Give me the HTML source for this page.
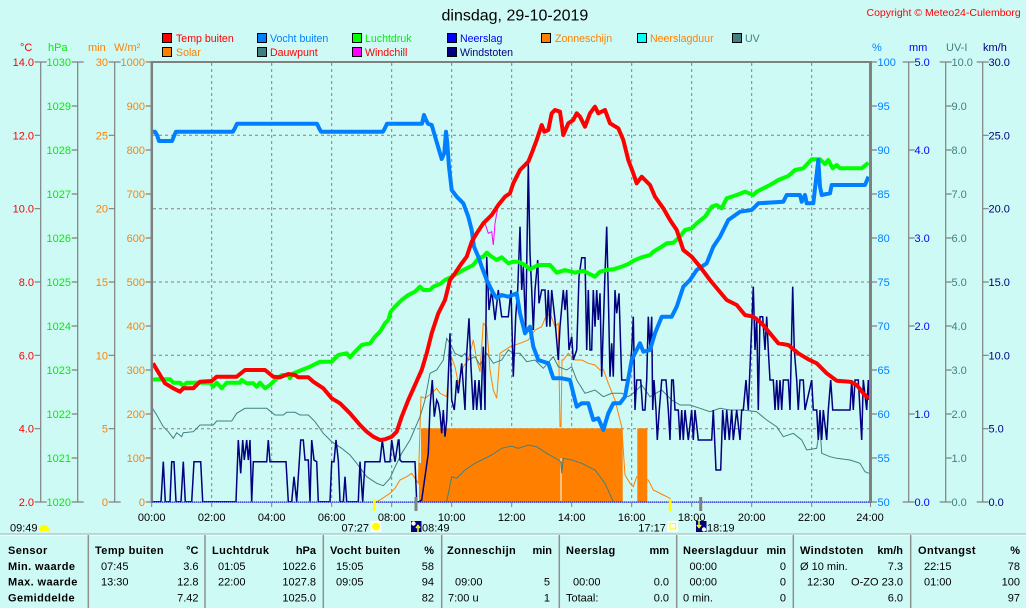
<!DOCTYPE html>
<html><head><meta charset="utf-8"><style>
html,body{margin:0;padding:0;background:#cefaf6;}
svg{display:block;font-family:"Liberation Sans",Arial,sans-serif;}
</style></head><body>
<svg width="1026" height="608" viewBox="0 0 1026 608" xmlns="http://www.w3.org/2000/svg">
<rect x="0" y="0" width="1026" height="608" fill="#cefaf6"/>
<!-- title -->
<text x="441.5" y="20.5" font-size="16" fill="#000">dinsdag, 29-10-2019</text>
<text x="866.5" y="16" font-size="10.5" fill="#ff0000">Copyright © Meteo24-Culemborg</text>

<!-- legend -->
<g font-size="10.6" stroke="none">
<rect x="162.5" y="33.5" width="9" height="9" fill="#ff0000" stroke="#000"/><text x="176" y="42" fill="#ff0000">Temp buiten</text>
<rect x="162.5" y="47.5" width="9" height="9" fill="#ff8000" stroke="#000"/><text x="176" y="56" fill="#ff8000">Solar</text>
<rect x="257.5" y="33.5" width="9" height="9" fill="#0080ff" stroke="#000"/><text x="270" y="42" fill="#0080ff">Vocht buiten</text>
<rect x="257.5" y="47.5" width="9" height="9" fill="#408080" stroke="#000"/><text x="270" y="56" fill="#ff0000">Dauwpunt</text>
<rect x="352.5" y="33.5" width="9" height="9" fill="#00ff00" stroke="#000"/><text x="365" y="42" fill="#00f000">Luchtdruk</text>
<rect x="352.5" y="47.5" width="9" height="9" fill="#ff00ff" stroke="#000"/><text x="365" y="56" fill="#ff0000">Windchill</text>
<rect x="447.5" y="33.5" width="9" height="9" fill="#0000ff" stroke="#000"/><text x="460" y="42" fill="#0000ff">Neerslag</text>
<rect x="447.5" y="47.5" width="9" height="9" fill="#000080" stroke="#000"/><text x="460" y="56" fill="#000080">Windstoten</text>
<rect x="541.5" y="33.5" width="9" height="9" fill="#ff8000" stroke="#000"/><text x="555" y="42" fill="#ff8000">Zonneschijn</text>
<rect x="637.5" y="33.5" width="9" height="9" fill="#00ffff" stroke="#000"/><text x="650" y="42" fill="#ff8000">Neerslagduur</text>
<rect x="732.5" y="33.5" width="9" height="9" fill="#408080" stroke="#000"/><text x="745" y="42" fill="#408080">UV</text>
</g>

<!-- unit labels -->
<g font-size="11">
<text x="20" y="51" fill="#ff0000">°C</text>
<text x="48" y="51" fill="#00f000">hPa</text>
<text x="88" y="51" fill="#ff8000">min</text>
<text x="114" y="51" fill="#ff8000">W/m²</text>
<text x="872" y="51" fill="#0080ff">%</text>
<text x="909" y="51" fill="#0000ff">mm</text>
<text x="946" y="51" fill="#408080">UV-I</text>
<text x="983" y="51" fill="#000080">km/h</text>
</g>

<!-- axis lines -->
<g stroke="#808080" stroke-width="1.2" fill="none">
<line x1="40.7" y1="62" x2="40.7" y2="502"/>
<line x1="77.7" y1="62" x2="77.7" y2="502"/>
<line x1="114.7" y1="62" x2="114.7" y2="502"/>
<line x1="908.7" y1="62" x2="908.7" y2="502"/>
<line x1="945.7" y1="62" x2="945.7" y2="502"/>
<line x1="982.7" y1="62" x2="982.7" y2="502"/>
<path d="M34.7 62H46.7M34.7 502H46.7M71.7 62H83.7M71.7 502H83.7M108.7 62H120.7M108.7 502H120.7M902.7 62H914.7M902.7 502H914.7M939.7 62H951.7M939.7 502H951.7M976.7 62H988.7M976.7 502H988.7"/>
<path d="M34.7 135.3H40.7M34.7 208.7H40.7M34.7 282H40.7M34.7 355.3H40.7M34.7 428.7H40.7"/>
<path d="M71.7 106H77.7M71.7 150H77.7M71.7 194H77.7M71.7 238H77.7M71.7 282H77.7M71.7 326H77.7M71.7 370H77.7M71.7 414H77.7M71.7 458H77.7"/>
<path d="M108.7 135.3H114.7M108.7 208.7H114.7M108.7 282H114.7M108.7 355.3H114.7M108.7 428.7H114.7"/>
<path d="M145.7 62H151.7M145.7 106H151.7M145.7 150H151.7M145.7 194H151.7M145.7 238H151.7M145.7 282H151.7M145.7 326H151.7M145.7 370H151.7M145.7 414H151.7M145.7 458H151.7M145.7 502H151.7"/>
<path d="M871 62H877M871 106H877M871 150H877M871 194H877M871 238H877M871 282H877M871 326H877M871 370H877M871 414H877M871 458H877M871 502H877"/>
<path d="M908.7 150H914.7M908.7 238H914.7M908.7 326H914.7M908.7 414H914.7"/>
<path d="M945.7 106H951.7M945.7 150H951.7M945.7 194H951.7M945.7 238H951.7M945.7 282H951.7M945.7 326H951.7M945.7 370H951.7M945.7 414H951.7M945.7 458H951.7"/>
<path d="M982.7 135.3H988.7M982.7 208.7H988.7M982.7 282H988.7M982.7 355.3H988.7M982.7 428.7H988.7"/>
</g>

<!-- tick labels -->
<g font-size="11" text-anchor="end" fill="#ff0000">
<text x="34" y="66">14.0</text><text x="34" y="139.3">12.0</text><text x="34" y="212.7">10.0</text><text x="34" y="286">8.0</text><text x="34" y="359.3">6.0</text><text x="34" y="432.7">4.0</text><text x="34" y="506">2.0</text>
</g>
<g font-size="11" text-anchor="end" fill="#00f000">
<text x="71" y="66">1030</text><text x="71" y="110">1029</text><text x="71" y="154">1028</text><text x="71" y="198">1027</text><text x="71" y="242">1026</text><text x="71" y="286">1025</text><text x="71" y="330">1024</text><text x="71" y="374">1023</text><text x="71" y="418">1022</text><text x="71" y="462">1021</text><text x="71" y="506">1020</text>
</g>
<g font-size="11" text-anchor="end" fill="#ff8000">
<text x="108" y="66">30</text><text x="108" y="139.3">25</text><text x="108" y="212.7">20</text><text x="108" y="286">15</text><text x="108" y="359.3">10</text><text x="108" y="432.7">5</text><text x="108" y="506">0</text>
<text x="145" y="66">1000</text><text x="145" y="110">900</text><text x="145" y="154">800</text><text x="145" y="198">700</text><text x="145" y="242">600</text><text x="145" y="286">500</text><text x="145" y="330">400</text><text x="145" y="374">300</text><text x="145" y="418">200</text><text x="145" y="462">100</text><text x="145" y="506">0</text>
</g>
<g font-size="11" fill="#0080ff">
<text x="877.5" y="66">100</text><text x="877.5" y="110">95</text><text x="877.5" y="154">90</text><text x="877.5" y="198">85</text><text x="877.5" y="242">80</text><text x="877.5" y="286">75</text><text x="877.5" y="330">70</text><text x="877.5" y="374">65</text><text x="877.5" y="418">60</text><text x="877.5" y="462">55</text><text x="877.5" y="506">50</text>
</g>
<g font-size="11" fill="#0000ff">
<text x="914.5" y="66">5.0</text><text x="914.5" y="154">4.0</text><text x="914.5" y="242">3.0</text><text x="914.5" y="330">2.0</text><text x="914.5" y="418">1.0</text><text x="914.5" y="506">0.0</text>
</g>
<g font-size="11" fill="#408080">
<text x="951.5" y="66">10.0</text><text x="951.5" y="110">9.0</text><text x="951.5" y="154">8.0</text><text x="951.5" y="198">7.0</text><text x="951.5" y="242">6.0</text><text x="951.5" y="286">5.0</text><text x="951.5" y="330">4.0</text><text x="951.5" y="374">3.0</text><text x="951.5" y="418">2.0</text><text x="951.5" y="462">1.0</text><text x="951.5" y="506">0.0</text>
</g>
<g font-size="11" fill="#000080">
<text x="988.5" y="66">30.0</text><text x="988.5" y="139.3">25.0</text><text x="988.5" y="212.7">20.0</text><text x="988.5" y="286">15.0</text><text x="988.5" y="359.3">10.0</text><text x="988.5" y="432.7">5.0</text><text x="988.5" y="506">0.0</text>
</g>

<!-- grid -->
<g stroke="#808080" stroke-width="1" stroke-dasharray="3,3" fill="none">
<path d="M153 135.3H869M153 208.7H869M153 282H869M153 355.3H869M153 428.7H869"/>
<path d="M211.7 63V501M271.7 63V501M331.7 63V501M391.7 63V501M451.7 63V501M511.7 63V501M571.7 63V501M631.7 63V501M691.7 63V501M751.7 63V501M811.7 63V501"/>
</g>

<!-- sunshine fill -->
<g fill="#ff8000">
<rect x="419" y="463" width="2.5" height="39"/>
<rect x="421" y="428.3" width="201.7" height="73.7"/>
<rect x="637.3" y="428.3" width="10" height="73.7"/>
</g>
<line x1="561" y1="458" x2="561" y2="501" stroke="#ffffff" stroke-width="1"/>

<!-- solar -->
<polyline fill="none" stroke="#ff8000" stroke-width="1" points="376,502 380,500 390,493.3 395,488.3 400,480 406.7,476.7 411.7,473.3 415,478.3 418.3,483.3 421,396.7 425,398.3 431.7,393.3 436.7,388.3 440,393.3 446.7,396.7 450,353.3 455,366.7 458.3,383.3 463.3,366.7 468.3,360 473.3,340 476.7,360 480,371.7 483.3,323.3 486.7,326.7 490,370 493.3,390 496.7,398.3 500,353.3 510,346.7 520,343.3 528.3,340 535,330 541.7,326.7 545,318.3 550,313.3 555,326.7 558.3,323.3 560,426.7 561,426.7 562,360 563.3,360 568.3,353.3 575,360 581.7,360 588.3,363.3 595,365 600,370 603.3,369.3 608.3,383.3 615,400 621.7,426.7 625,475 630,483.3 633.3,486.7 636.7,476.7 648.3,480 653.3,490 663.3,495 670,498.3 671,502"/>

<!-- UV -->
<polyline fill="none" stroke="#408080" stroke-width="1" points="446.7,501.7 451.7,476.7 456.7,478.3 465,470 475,463.3 481.7,460 491.7,455 501.7,448.3 511.7,446 518.3,448.3 528.3,445 536.7,446.7 546.7,453.3 558.3,460 561,462 561.7,473.3 563.3,458.3 571.7,460 581.7,463.3 595,470 605,483.3 613.3,501.7"/>

<!-- dewpoint -->
<polyline fill="none" stroke="#408080" stroke-width="1" points="152.5,408.3 156.7,415 163.3,426.7 168.3,431.7 173.3,438.3 176.7,432.7 181.7,436.7 183.3,432.7 193.3,431.7 200,425 213.3,425 216.7,421 231.7,421 236.7,413.3 245,408.3 266.7,408.3 275,415 283.3,415 286.7,412.3 295,412.3 300,415 308.3,415 315,421.7 323.3,433.3 331.7,441.7 341.7,448.3 350,455 356.7,463.3 366.7,476.7 376.7,483.3 383.3,485.7 390,478.3 395,467 401.7,453.3 410,440 420,416.7 425,400 430,373.3 436.7,370 443.3,360 446.7,338.3 450,343.3 455,353.3 461.7,356.7 465,353.3 468.3,360 475,356.7 480,365 486.7,353.3 493.3,363.3 501.7,360 508.3,350 513.3,353.3 520,353.3 526.7,361.7 535,360 543.3,368.3 553.3,356.7 558.3,366.7 566.7,370 571.7,366.7 576.7,380 585,393.3 595,390 603.3,396.7 611.7,393.3 621.7,393.3 628.3,396.7 635,391.7 641.7,385 650,396.7 661.7,390 671.7,400 680,405 690,405 700,408.3 710,411.7 720,408.3 730,410 743.3,410 756.7,411.7 766.7,420 776.7,426.7 783.3,436.7 793.3,433.3 801.7,440 806.7,450 816.7,448.3 820,426.7 821.7,453.3 830,456.7 836.7,458.3 850,460 860,463.3 865,471.7 869,473.3"/>

<!-- wind gusts -->
<polyline fill="none" stroke="#000080" stroke-width="1.5" stroke-linejoin="miter" points="152,501.7 161,501.7 163.3,461.7 165.3,501.7 170,501.7 171.7,461.7 174,461.7 176,501.7 181,501.7 183.3,461.7 185.3,501.7 191.7,501.7 194,461.7 200.7,461.7 202.7,501.7 236,501.7 238.3,440 240.7,473.3 242.7,440 244.3,460 246.7,440 248.3,460 250,440 251.7,501.7 253.3,461.7 266.7,461.7 268.3,440 270,461.7 286,461.7 288.3,501.7 291.7,501.7 294,476.7 296.7,501.7 298.3,476.7 300.7,440 303.3,440 305,460 308.3,460 310,501.7 311.7,440 314,460 316.7,461.7 318.3,501.7 330,501.7 331.7,461.7 334,461.7 336,440 338.3,460 340,501.7 343.3,501.7 345,476.7 346.7,501.7 358.3,501.7 360,461.7 362.7,501.7 365,461.7 380,461.7 382.3,440 385,461.7 390,461.7 391.7,440 395,461.7 398.3,440 399,440 400,460 401.7,461.7 415,461.7 416.7,501.7 419,501.7 421.7,500 428.3,453.3 430,406.7 432.3,380 434.3,416.7 436.7,400 438.3,403.3 440,413.3 441.7,433.3 443.3,410 445,436.7 446.7,420 448.3,376.7 450,333.3 451.7,400 454.3,410 456.7,380 458.3,393.3 461.7,363.3 465,410 466.7,353.3 469,318.3 471,366.7 473.3,410 475,380 476.7,410 479,380 481,410 482.3,366.7 483.3,346.7 485,410 486.7,256.7 489,310 491.7,290 495,320 498.3,290 501.7,316.7 508.3,316.7 511,290 513.3,376.7 515.7,316.7 517.7,290 520,226.7 521.7,290 523.3,266.7 525.7,330 528.3,163.3 530,253.3 531.7,290 533.3,330 535,290 537.7,260 539,303.3 541.7,290 545,290 546.7,326.7 548.3,290 550,326.7 551.7,290 555,320 558.3,360 560,326.7 563.3,290 565,310 566.7,290 569,350 571.7,336.7 573.3,360 576.7,350 579,276.7 581.7,257.7 585,257.7 586.7,350 588.3,290 590,350 591.7,350 593.3,290 595,326.7 596.7,290 598.3,320 600,293.3 601.7,376.7 605,273.3 606.7,226.7 608.3,293.3 610,376.7 611.7,343.3 613.3,376.7 615,290 616.7,313.3 619,293.3 621.7,380 628.3,380 630,370 631.7,350 633.3,316.7 635,410 636.7,380 640.7,380 642.7,410 645,410 646.7,380 648.3,316.7 650,350 651.7,316.7 652.7,410 654,380 656,410 657.3,440 659.3,410 661.7,380 666,380 668.3,410 670,440 671.7,380 673.3,380 675,410 678.3,410 680,440 681.7,410 683.3,440 685,410 688.3,440 691.7,410 693.3,440 695,410 698.3,440 711.7,440 713.3,410 716,470 720.7,470 722.7,410 725,440 726.7,410 729.3,440 731.7,410 733.3,440 736.7,410 740,440 741.7,410 743.3,410 746,380 748.3,410 750.7,350 753.3,286.7 755,350 756.7,316.7 758.3,410 760,316.7 762.7,316.7 765,350 766.7,316.7 768.3,350 770,380 773.3,380 775,410 776.7,380 778.3,410 780,380 781.7,410 783.3,380 788.3,380 790,410 792.7,286.7 794.3,350 796.7,380 798.3,410 800,380 803.3,380 805,410 811.7,380 813.3,410 816.7,410 818.3,440 820,410 821.7,440 823.3,410 826.7,440 828.3,410 830.7,380 832.7,410 850,410 851.7,380 853.3,410 855,380 858.3,380 860,410 861.7,440 863.3,380 866.7,410 868.3,380 869,400"/>

<!-- windchill -->
<polyline fill="none" stroke="#ff00ff" stroke-width="1" points="485,223.3 488.3,233.3 491.7,231.7 493.3,245 495,223.3 497.7,208.3"/>

<!-- pressure -->
<polyline fill="none" stroke="#00ff00" stroke-width="4" stroke-linejoin="round" points="153,380 155,379.3 170,379.3 173.3,382.7 180,382.7 183.3,386 186.7,382.7 210,382.7 213.3,386.7 216.7,382.7 221.7,388.3 226.7,382.7 240,382.7 241.7,380 246.7,383.3 253.3,383.3 256.7,386.7 260,382.7 265,388.3 270,385 275,380 281.7,375 288.3,375 290,378.3 293.3,373.3 301.7,370 310,366.7 320,361.7 331.7,361.7 338.3,355 346.7,353.3 350,357.3 355,351.7 361.7,345 370,343.3 375,336.7 380,331.7 385,323.3 388.3,320 390.7,311.7 395,306.7 401.7,300 408.3,295 415,291.7 420,286.7 423.3,290 430,290 433.3,286.7 440,284 445,280 451.7,276.7 463.3,270 473.3,265 478.3,258.3 483.3,256.7 486.7,252.7 491.7,256.7 496.7,260 501.7,257.3 508.3,263.3 513.3,261.7 518.3,261.7 525,265 530,269.3 538.3,265 550,265 556.7,272.7 565,270 575,272.7 583.3,270.7 588.3,273.3 595,276.7 600,271.7 606.7,270 613.3,269.3 621.7,266.7 628.3,264 635,260 641.7,257.3 650,255 653.3,251.7 661.7,246.7 666.7,243.3 673.3,242.7 680,236.7 685,230 691.7,228.3 696.7,223.3 705,216.7 711.7,206.7 716.7,205 721.7,208.3 726.7,198.3 736.7,195 745,191.7 753.3,195 756.7,191.7 770,185 778.3,180 788.3,176 795,170 803.3,168.3 811.7,159.3 820,159.3 825,164 828.3,160 832.7,168.3 836.7,165 840,168.3 861.7,168.3 868.5,162.7"/>

<!-- humidity -->
<polyline fill="none" stroke="#0080ff" stroke-width="4" stroke-linejoin="round" points="153,131.7 155,131.7 157,135 159,141 172,141 174,136 176,131.7 233,131.7 235,128 237,123.7 317,123.7 319,128 321,131.7 383,131.7 385,128 387,123.7 422,123.7 424,115 426,120 428,123.7 431.7,125 440,153.3 441.7,159 444.3,153 446,131.7 447.3,143 449,166.7 451.7,190 456.7,196.7 463.3,203.3 468.3,216.7 471.7,230 474,246.7 478.3,256.7 481.7,266.7 486.7,280 493.3,293.3 496.7,298 501.7,295 508.3,296.7 516.7,293.3 520,313.3 525,333.3 530,326.7 533.3,346.7 538.3,360 548.3,363.3 553.3,378.3 561.7,378.3 570,380 576.7,406.7 581.7,403.3 588.3,403.3 593.3,420 598.3,418.3 603.3,430 608.3,413.3 613.3,403.3 620,403.3 625,396.7 631.7,360 635,353.3 640,343.3 643.3,351.7 650,350 655,333.3 661.7,316.7 671.7,316.7 676.7,306.7 683.3,286.7 690,280 696.7,270 706.7,263.3 713.3,246.7 720,236.7 728.3,220 740,211.7 751.7,210 755,206.7 758.3,203.3 783.3,201.7 786.7,195 800,195 801.7,201.7 805,195 806.7,203.3 813.3,203.3 818.3,160 820,186.7 821.7,195 830,193.3 831.7,185 865,185 868.5,176.7"/>

<!-- temperature -->
<polyline fill="none" stroke="#ff0000" stroke-width="4" stroke-linejoin="round" points="153,363.3 155,366.7 160,375 165,383.3 173.3,388.3 180,391.7 183.3,388.3 193.3,388.3 200,381.7 211.7,381 216.7,376.7 236.7,376.7 245,370 265,370 273.3,376.7 280,377.3 288.3,374 295,375 298.3,377.3 308.3,377.3 313.3,381.7 323.3,388.3 331.7,398.3 340,403.3 350,413.3 360,425 366.7,431.7 373.3,436.7 380,440 385,439.3 391.7,436.7 396.7,431.7 400,421.7 401.7,416.7 408.3,400 415,385 421.7,370 426.7,353.3 431.7,333.3 438.3,313.3 445,300 450,280 455,273.3 461.7,263.3 466.7,256.7 471.7,241.7 476.7,233.3 483.3,223.3 491.7,215 498.3,205 505,196.7 510,193.3 513.3,183.3 520,170 525,165 528.3,161.7 531.7,153.3 536.7,140 541.7,125 544.3,131.7 548.3,130 551.7,113.3 555,110 560,111.7 563.3,135 568.3,123.3 573.3,120 576.7,113.3 580,116.7 585,126.7 590,113.3 595,106.7 598.3,113.3 605,110 610,123.3 618.3,128.3 623.3,140 628.3,160 633.3,173.3 636.7,183.3 641.7,176.7 650,185 655,196.7 663.3,208.3 670,220 676.7,230 683.3,250 691.7,256.7 700,266.7 710,280 718.3,290 726.7,300 736.7,305 745,315 753.3,316.7 761.7,323.3 770,333.3 778.3,343.3 788.3,345 798.3,353.3 808.3,359.3 816.7,363.3 826.7,373.3 836.7,380.7 850,381.7 856.7,385 863.3,393.3 868.5,398.3"/>

<!-- plot border -->
<line x1="151" y1="62" x2="871" y2="62" stroke="#808080" stroke-width="2"/>
<line x1="151.8" y1="61" x2="151.8" y2="503" stroke="#808080" stroke-width="2.5"/>
<line x1="870.5" y1="61" x2="870.5" y2="503" stroke="#808080" stroke-width="3"/>
<line x1="151" y1="502.2" x2="871" y2="502.2" stroke="#808080" stroke-width="1.2"/>
<line x1="152" y1="502" x2="869" y2="502" stroke="#0000ff" stroke-width="1" stroke-dasharray="1,1"/>

<!-- bottom time ticks -->
<path d="M151.7 502V507M211.7 502V507M271.7 502V507M331.7 502V507M391.7 502V507M451.7 502V507M511.7 502V507M571.7 502V507M631.7 502V507M691.7 502V507M751.7 502V507M811.7 502V507M870.5 502V507" stroke="#808080" stroke-width="1"/>
<line x1="374.3" y1="499" x2="374.3" y2="511" stroke="#ffff00" stroke-width="2.5"/>
<line x1="670" y1="499" x2="670" y2="511" stroke="#ffff00" stroke-width="2.5"/>
<line x1="416" y1="497" x2="416" y2="511" stroke="#808080" stroke-width="3"/>
<line x1="700.7" y1="497" x2="700.7" y2="511" stroke="#808080" stroke-width="3"/>

<!-- time labels -->
<g font-size="11" text-anchor="middle" fill="#000">
<text x="151.7" y="521">00:00</text><text x="211.7" y="521">02:00</text><text x="271.7" y="521">04:00</text><text x="331.7" y="521">06:00</text><text x="391.7" y="521">08:00</text><text x="451.7" y="521">10:00</text><text x="511.7" y="521">12:00</text><text x="571.7" y="521">14:00</text><text x="631.7" y="521">16:00</text><text x="691.7" y="521">18:00</text><text x="751.7" y="521">20:00</text><text x="811.7" y="521">22:00</text><text x="870" y="521">24:00</text>
</g>

<!-- sunrise/moon labels -->
<g font-size="11" fill="#000">
<text x="10" y="531.5">09:49</text>
<text x="341.5" y="531.5">07:27</text>
<text x="422" y="531.5">08:49</text>
<text x="638.3" y="531.5">17:17</text>
<text x="707" y="531.5">18:19</text>
</g>
<path d="M39 531 Q39 525 44 525 Q49 525 49 531 Z" fill="#ffff00"/>
<rect x="370.7" y="521" width="10.5" height="11" fill="#ffffff"/>
<circle cx="376" cy="526.5" r="4" fill="#ffff00"/>
<rect x="411" y="521" width="10.5" height="11" fill="#000080"/>
<circle cx="413.5" cy="523.5" r="2.2" fill="#ffffff"/>
<path d="M418 532V526M416 528L418 525.5L420 528" stroke="#ffff00" stroke-width="1.5" fill="none"/>
<rect x="667.5" y="521" width="10.5" height="11" fill="#ffffff"/>
<rect x="670" y="523.5" width="5.5" height="5.5" fill="none" stroke="#ffff00" stroke-width="1.2"/>
<rect x="696" y="521" width="10.5" height="11" fill="#000080"/>
<circle cx="704" cy="529.5" r="2.2" fill="#ffffff"/>
<path d="M699 521V527M697 525L699 527.5L701 525" stroke="#ffff00" stroke-width="1.5" fill="none"/>

<!-- table lines -->
<line x1="0" y1="534" x2="1026" y2="534" stroke="#a0b0b0" stroke-width="1"/>
<line x1="0" y1="535.2" x2="1026" y2="535.2" stroke="#ffffff" stroke-width="1"/>
<g stroke="#909090" stroke-width="1.5">
<line x1="88.3" y1="535" x2="88.3" y2="608"/>
<line x1="205" y1="535" x2="205" y2="608"/>
<line x1="323.3" y1="535" x2="323.3" y2="608"/>
<line x1="441.7" y1="535" x2="441.7" y2="608"/>
<line x1="559.3" y1="535" x2="559.3" y2="608"/>
<line x1="676.7" y1="535" x2="676.7" y2="608"/>
<line x1="793.3" y1="535" x2="793.3" y2="608"/>
<line x1="910.7" y1="535" x2="910.7" y2="608"/>
</g>

<!-- table text -->
<g font-size="11" font-weight="bold" fill="#000" letter-spacing="0.4">
<text x="8" y="554">Sensor</text>
<text x="8" y="570">Min. waarde</text>
<text x="8" y="585.7">Max. waarde</text>
<text x="8" y="601.3">Gemiddelde</text>
<text x="95" y="554">Temp buiten</text>
<text x="212" y="554">Luchtdruk</text>
<text x="330" y="554">Vocht buiten</text>
<text x="447" y="554">Zonneschijn</text>
<text x="566" y="554">Neerslag</text>
<text x="683" y="554">Neerslagduur</text>
<text x="800" y="554">Windstoten</text>
<text x="918" y="554">Ontvangst</text>
</g>
<g font-size="11" font-weight="bold" fill="#000" text-anchor="end">
<text x="198.5" y="554">°C</text>
<text x="316" y="554">hPa</text>
<text x="434" y="554">%</text>
<text x="552" y="554">min</text>
<text x="669" y="554">mm</text>
<text x="786" y="554">min</text>
<text x="903" y="554">km/h</text>
<text x="1020" y="554">%</text>
</g>
<g font-size="11" fill="#000">
<text x="101" y="570">07:45</text>
<text x="101" y="585.7">13:30</text>
<text x="218" y="570">01:05</text>
<text x="218" y="585.7">22:00</text>
<text x="336" y="570">15:05</text>
<text x="336" y="585.7">09:05</text>
<text x="455" y="585.7">09:00</text>
<text x="448" y="601.3">7:00 u</text>
<text x="573" y="585.7">00:00</text>
<text x="566" y="601.3">Totaal:</text>
<text x="689.5" y="570">00:00</text>
<text x="689.5" y="585.7">00:00</text>
<text x="683" y="601.3">0 min.</text>
<text x="800" y="570">Ø 10 min.</text>
<text x="807" y="585.7">12:30</text>
<text x="924" y="570">22:15</text>
<text x="924" y="585.7">01:00</text>
</g>
<g font-size="11" fill="#000" text-anchor="end">
<text x="198.5" y="570">3.6</text>
<text x="198.5" y="585.7">12.8</text>
<text x="198.5" y="601.3">7.42</text>
<text x="316" y="570">1022.6</text>
<text x="316" y="585.7">1027.8</text>
<text x="316" y="601.3">1025.0</text>
<text x="434" y="570">58</text>
<text x="434" y="585.7">94</text>
<text x="434" y="601.3">82</text>
<text x="550" y="585.7">5</text>
<text x="550" y="601.3">1</text>
<text x="669" y="585.7">0.0</text>
<text x="669" y="601.3">0.0</text>
<text x="786" y="570">0</text>
<text x="786" y="585.7">0</text>
<text x="786" y="601.3">0</text>
<text x="903" y="570">7.3</text>
<text x="903" y="585.7">O-ZO 23.0</text>
<text x="903" y="601.3">6.0</text>
<text x="1020" y="570">78</text>
<text x="1020" y="585.7">100</text>
<text x="1020" y="601.3">97</text>
</g>
</svg>
</body></html>
